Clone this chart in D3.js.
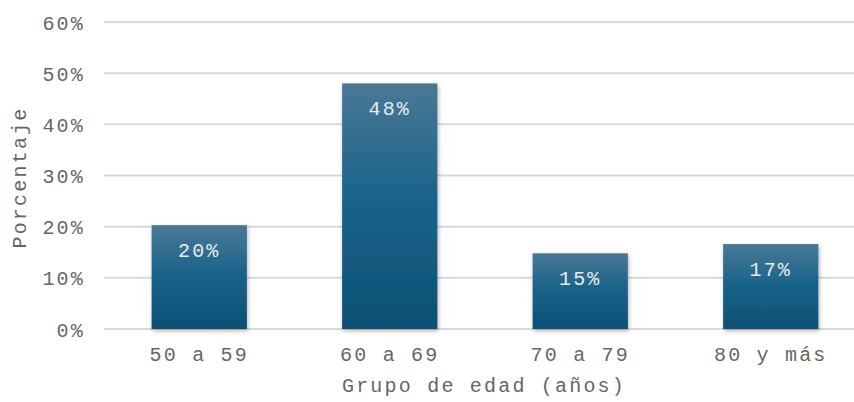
<!DOCTYPE html>
<html>
<head>
<meta charset="utf-8">
<script src="https://cdn.jsdelivr.net/npm/d3@7"></script>
<style>
  body { margin: 0; background: #fff; }
  text { font-family: "Courier New", "Liberation Mono", monospace; }
</style>
</head>
<body>
<svg id="chart" width="854" height="402"></svg>
<script>
const categories = ['50 a 59', '60 a 69', '70 a 79', '80 y más']
const values = [20.3, 48, 14.8, 16.6]
const yTicks = [0, 10, 20, 30, 40, 50, 60]

const width = 854
const height = 402
const margin = { top: 22, right: -12, bottom: 73, left: 104 }
const fontSize = 20
const spacing = '2.2px'
const textColor = '#666666'

const svg = d3.select('#chart')

const xScale = d3
    .scaleBand()
    .domain(categories)
    .range([margin.left, width - margin.right])
    .paddingInner(0.5)
    .paddingOuter(0.25)

const yScale = d3
    .scaleLinear()
    .domain([0, 60])
    .range([height - margin.bottom, margin.top])

const defs = svg.append('defs')
const grad = defs.append('linearGradient')
    .attr('id', 'barGrad')
    .attr('x1', 0).attr('y1', 0).attr('x2', 0).attr('y2', 1)
grad.append('stop').attr('offset', '0%').attr('stop-color', '#4a7895')
grad.append('stop').attr('offset', '50%').attr('stop-color', '#17628a')
grad.append('stop').attr('offset', '100%').attr('stop-color', '#0d5073')

const shadow = defs.append('filter').attr('id', 'shadow')
    .attr('x', '-10%').attr('y', '-10%').attr('width', '130%').attr('height', '130%')
shadow.append('feDropShadow')
    .attr('dx', 1).attr('dy', 2).attr('stdDeviation', 2)
    .attr('flood-color', '#000').attr('flood-opacity', 0.3)

// gridlines
svg.append('g')
    .selectAll('line')
    .data(yTicks)
    .join('line')
    .attr('x1', margin.left)
    .attr('x2', width - margin.right)
    .attr('y1', d => yScale(d))
    .attr('y2', d => yScale(d))
    .attr('stroke', '#d9d9d9')
    .attr('stroke-width', 2)

// y axis labels
const yAxis = g =>
    g
        .attr('transform', `translate(${margin.left - 19},0)`)
        .call(d3.axisLeft(yScale).tickValues(yTicks).tickFormat(d => d + '%').tickSize(0).tickPadding(0))
        .call(g => g.select('.domain').remove())
        .call(g => g.selectAll('text')
            .attr('fill', textColor)
            .style('font-size', fontSize + 'px')
            .style('letter-spacing', spacing)
            .attr('dy', '0.35em'))

svg.append('g').call(yAxis)

// bars
svg.append('g')
    .selectAll('rect')
    .data(values)
    .join('rect')
    .attr('x', (d, i) => xScale(categories[i]))
    .attr('y', d => yScale(d))
    .attr('width', xScale.bandwidth())
    .attr('height', d => yScale(0) - yScale(d))
    .attr('fill', 'url(#barGrad)')
    .attr('filter', 'url(#shadow)')

// value labels
svg.append('g')
    .selectAll('text')
    .data(values)
    .join('text')
    .attr('x', (d, i) => xScale(categories[i]) + xScale.bandwidth() / 2)
    .attr('y', d => yScale(d) + 25)
    .attr('dy', '0.35em')
    .attr('text-anchor', 'middle')
    .attr('fill', '#e6edf2')
    .style('font-size', fontSize + 'px')
    .style('letter-spacing', spacing)
    .text(d => Math.round(d) + '%')

// x axis labels
const xAxis = g =>
    g
        .attr('transform', `translate(0,${height - margin.bottom})`)
        .call(d3.axisBottom(xScale).tickSize(0).tickPadding(18))
        .call(g => g.select('.domain').remove())
        .call(g => g.selectAll('text')
            .attr('fill', textColor)
            .style('font-size', fontSize + 'px')
            .style('letter-spacing', spacing))

svg.append('g').call(xAxis)

// axis titles
svg.append('text')
    .attr('x', 484)
    .attr('y', 392)
    .attr('text-anchor', 'middle')
    .attr('fill', textColor)
    .style('font-size', fontSize + 'px')
    .style('letter-spacing', spacing)
    .text('Grupo de edad (años)')

svg.append('text')
    .attr('transform', `translate(26,${yScale(30) + 2}) rotate(-90)`)
    .attr('text-anchor', 'middle')
    .attr('fill', textColor)
    .style('font-size', fontSize + 'px')
    .style('letter-spacing', spacing)
    .text('Porcentaje')
</script>
</body>
</html>
